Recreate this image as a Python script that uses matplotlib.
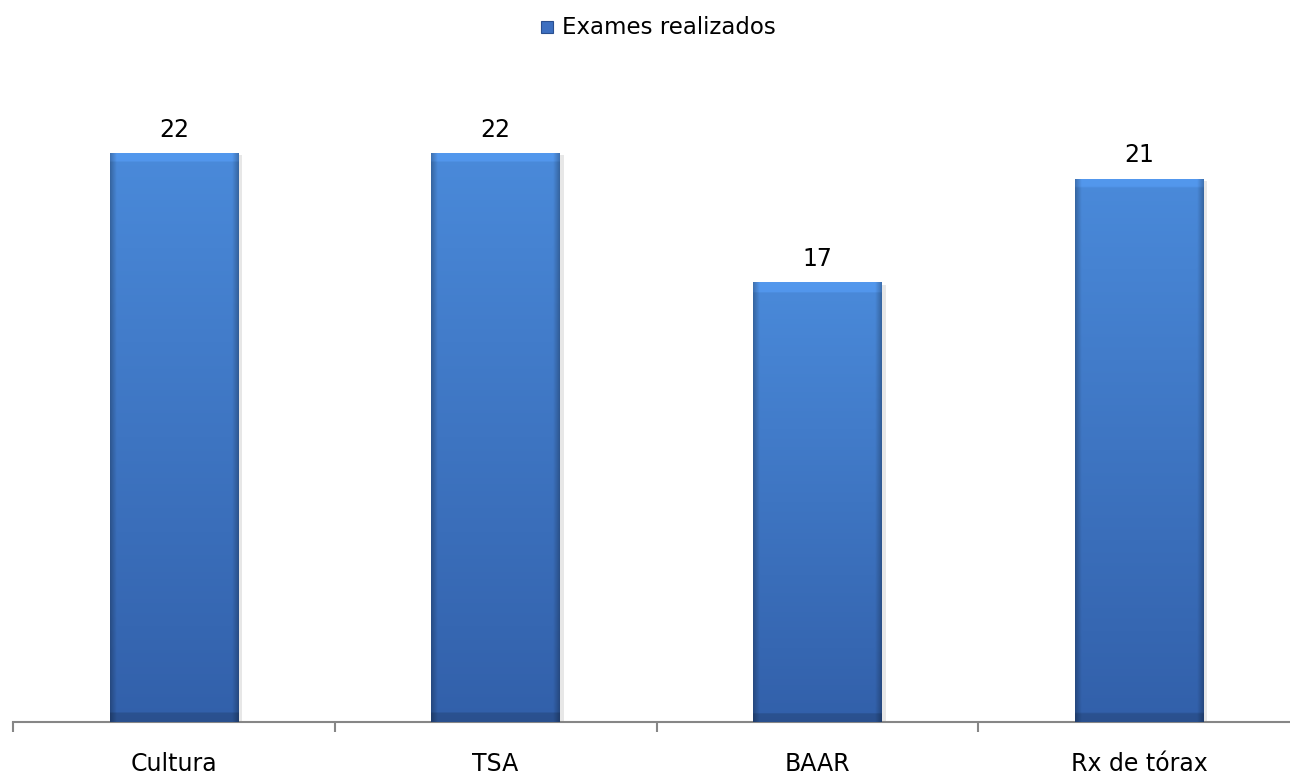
import numpy as np
import matplotlib
matplotlib.use("Agg")
import matplotlib.pyplot as plt
from matplotlib.patches import Rectangle

categories = ["Cultura", "TSA", "BAAR", "Rx de tórax"]
values = [22, 22, 17, 21]
series_name = "Exames realizados"

W, H = 1290, 774
fig = plt.figure(figsize=(W / 100, H / 100), dpi=100)
left_px, right_px, top_px, bottom_px = 13, 1300, 75, 722
ax = fig.add_axes([left_px / W, 1 - bottom_px / H,
                   (right_px - left_px) / W, (bottom_px - top_px) / H])

x = np.arange(len(categories))
bw = 0.4
bars = ax.bar(x, values, width=bw, color="none", edgecolor="none", zorder=3)

top_c = np.array([74, 138, 218]) / 255
bot_c = np.array([50, 96, 170]) / 255
ny, nx = 300, 128
t = np.linspace(0, 1, ny)[:, None]
base = top_c[None, None, :] * (1 - t[..., None]) + bot_c[None, None, :] * t[..., None]
base = np.repeat(base, nx, axis=1)
xs = np.linspace(0, 1, nx)[None, :]
edge = np.clip(1 - np.minimum(xs, 1 - xs) / 0.05, 0, 1)
img = base * (1 - 0.25 * edge[..., None])

px_per_unit = (bottom_px - top_px) / 25
for b in bars:
    x0, w, h = b.get_x(), b.get_width(), b.get_height()
    # shadow
    ax.add_patch(Rectangle((x0 + 0.012, 0), w, h - 0.1, facecolor="#d8d8d8",
                           edgecolor="none", zorder=2, alpha=0.6))
    im_arr = img.copy()
    frac_top = 9 / (h * px_per_unit)
    frac_bot = 8 / (h * px_per_unit)
    rows = np.linspace(0, 1, ny)
    topband = rows < frac_top
    botband = rows > 1 - frac_bot
    im_arr[topband] = np.clip(im_arr[topband] * 1.07 + 0.015, 0, 1)
    im_arr[botband] = im_arr[botband] * 0.84
    im = ax.imshow(im_arr, extent=[x0, x0 + w, 0, h], origin="upper",
                   aspect="auto", zorder=3, interpolation="bilinear")
    im.set_clip_path(b)
    ax.annotate(f"{h:g}", (x0 + w / 2, h), xytext=(0, 8), textcoords="offset points",
                ha="center", va="bottom", fontsize=17, color="#000000")

ax.set_xlim(-0.5, len(categories) - 0.5)
ax.set_ylim(0, 25)
for s in ["top", "right", "left"]:
    ax.spines[s].set_visible(False)
ax.spines["bottom"].set_color("#868686")
ax.spines["bottom"].set_linewidth(1.5)
ax.set_yticks([])
ax.set_xticks(x)
ax.set_xticklabels(categories, fontsize=17)
ax.tick_params(axis="x", which="major", length=0, pad=21.5)
ax.set_xticks(np.arange(len(categories) + 1) - 0.5, minor=True)
ax.tick_params(axis="x", which="minor", length=7, width=1.5, color="#868686")

# legend
fig.text(562 / W, 1 - 27 / H, series_name, ha="left", va="center", fontsize=16.5)
fig.patches.append(Rectangle((541 / W, 1 - 33 / H), 12 / W, 12 / H,
                             transform=fig.transFigure, facecolor="#3d6fc0",
                             edgecolor="#2a4f90", lw=0.8))

fig.savefig("out.png", dpi=100)
